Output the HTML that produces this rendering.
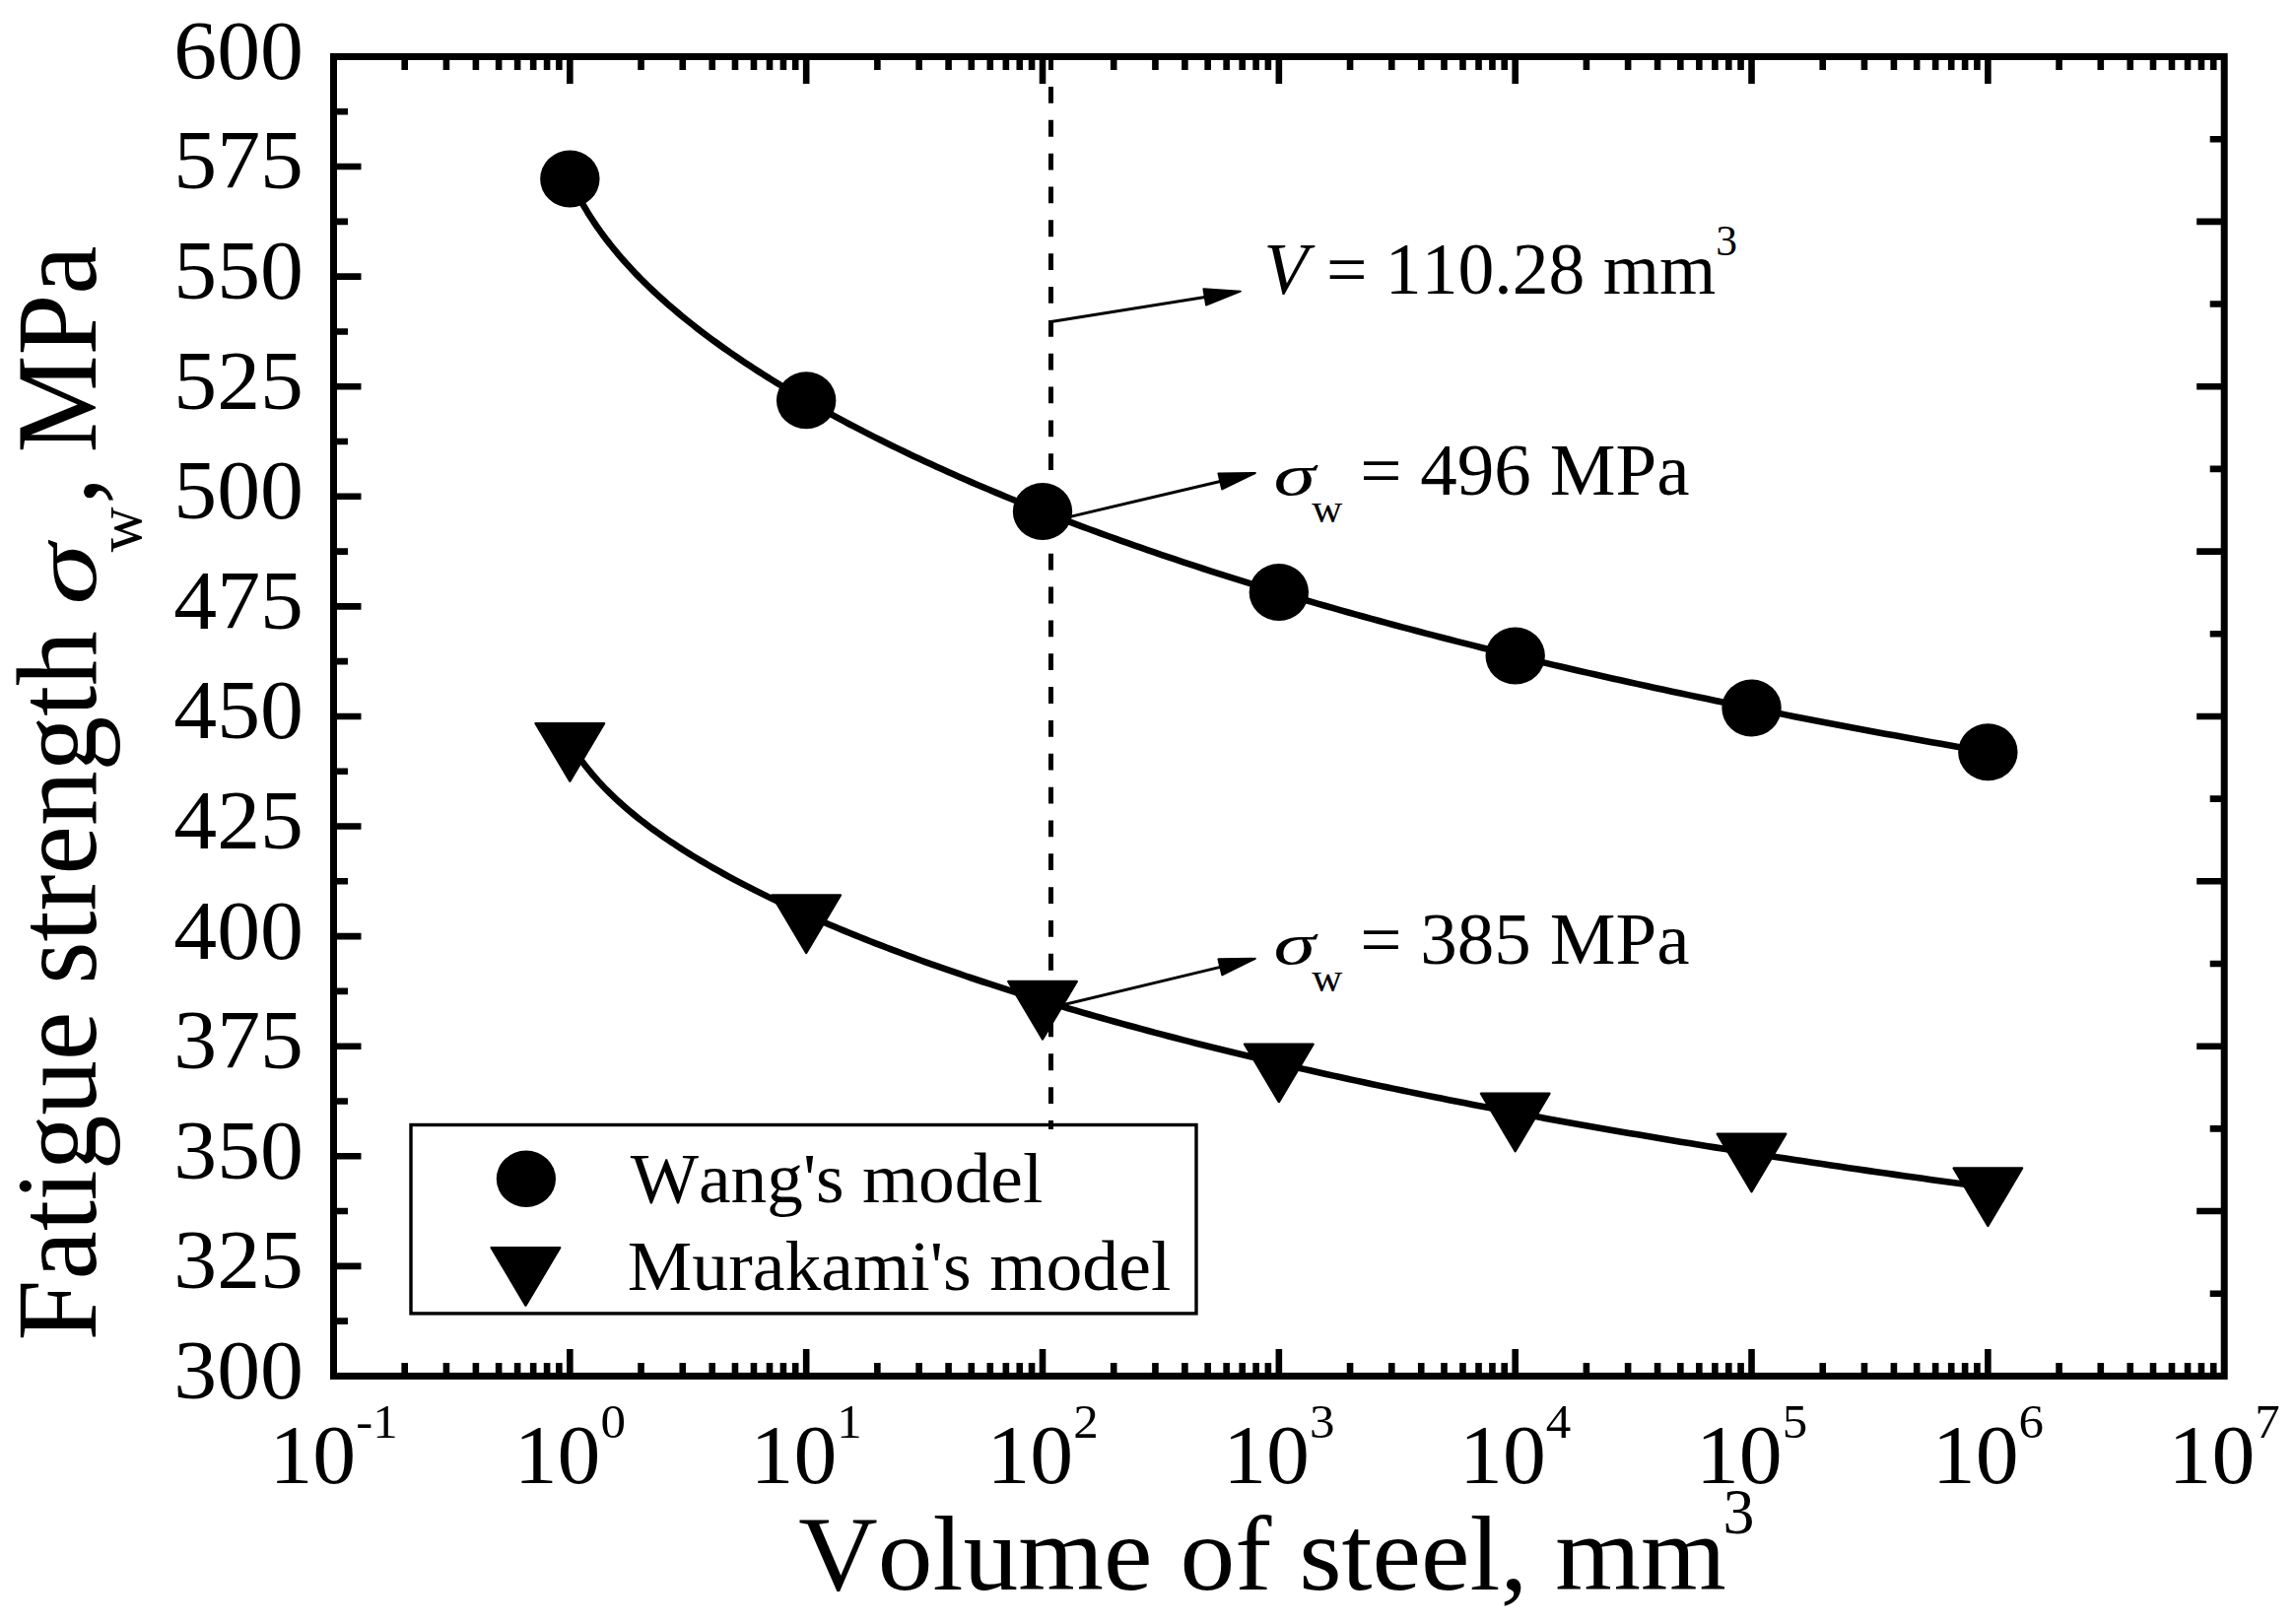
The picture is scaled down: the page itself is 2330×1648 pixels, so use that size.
<!DOCTYPE html>
<html lang="en"><head><meta charset="utf-8"><title>Fatigue strength vs volume of steel</title>
<style>html,body{margin:0;padding:0;background:#fff;}body{width:2330px;height:1648px;overflow:hidden;}svg{display:block;}text{font-family:"Liberation Serif", serif;fill:#000;font-kerning:none;}.i{font-style:italic;}</style></head><body>
<svg width="2330" height="1648" viewBox="0 0 2330 1648">
<rect x="0" y="0" width="2330" height="1648" fill="#fff"/>
<path d="M410.7 1396.4 v-13.5 M410.7 57.5 v13.5 M452.93 1396.4 v-13.5 M452.93 57.5 v13.5 M482.9 1396.4 v-13.5 M482.9 57.5 v13.5 M506.14 1396.4 v-13.5 M506.14 57.5 v13.5 M525.13 1396.4 v-13.5 M525.13 57.5 v13.5 M541.19 1396.4 v-13.5 M541.19 57.5 v13.5 M555.09 1396.4 v-13.5 M555.09 57.5 v13.5 M567.36 1396.4 v-13.5 M567.36 57.5 v13.5 M578.34 1396.4 v-27.5 M578.34 57.5 v27.5 M650.54 1396.4 v-13.5 M650.54 57.5 v13.5 M692.77 1396.4 v-13.5 M692.77 57.5 v13.5 M722.73 1396.4 v-13.5 M722.73 57.5 v13.5 M745.98 1396.4 v-13.5 M745.98 57.5 v13.5 M764.97 1396.4 v-13.5 M764.97 57.5 v13.5 M781.02 1396.4 v-13.5 M781.02 57.5 v13.5 M794.93 1396.4 v-13.5 M794.93 57.5 v13.5 M807.2 1396.4 v-13.5 M807.2 57.5 v13.5 M818.17 1396.4 v-27.5 M818.17 57.5 v27.5 M890.37 1396.4 v-13.5 M890.37 57.5 v13.5 M932.61 1396.4 v-13.5 M932.61 57.5 v13.5 M962.57 1396.4 v-13.5 M962.57 57.5 v13.5 M985.81 1396.4 v-13.5 M985.81 57.5 v13.5 M1004.8 1396.4 v-13.5 M1004.8 57.5 v13.5 M1020.86 1396.4 v-13.5 M1020.86 57.5 v13.5 M1034.77 1396.4 v-13.5 M1034.77 57.5 v13.5 M1047.04 1396.4 v-13.5 M1047.04 57.5 v13.5 M1058.01 1396.4 v-27.5 M1058.01 57.5 v27.5 M1130.21 1396.4 v-13.5 M1130.21 57.5 v13.5 M1172.44 1396.4 v-13.5 M1172.44 57.5 v13.5 M1202.41 1396.4 v-13.5 M1202.41 57.5 v13.5 M1225.65 1396.4 v-13.5 M1225.65 57.5 v13.5 M1244.64 1396.4 v-13.5 M1244.64 57.5 v13.5 M1260.7 1396.4 v-13.5 M1260.7 57.5 v13.5 M1274.61 1396.4 v-13.5 M1274.61 57.5 v13.5 M1286.88 1396.4 v-13.5 M1286.88 57.5 v13.5 M1297.85 1396.4 v-27.5 M1297.85 57.5 v27.5 M1370.05 1396.4 v-13.5 M1370.05 57.5 v13.5 M1412.28 1396.4 v-13.5 M1412.28 57.5 v13.5 M1442.25 1396.4 v-13.5 M1442.25 57.5 v13.5 M1465.49 1396.4 v-13.5 M1465.49 57.5 v13.5 M1484.48 1396.4 v-13.5 M1484.48 57.5 v13.5 M1500.54 1396.4 v-13.5 M1500.54 57.5 v13.5 M1514.44 1396.4 v-13.5 M1514.44 57.5 v13.5 M1526.71 1396.4 v-13.5 M1526.71 57.5 v13.5 M1537.69 1396.4 v-27.5 M1537.69 57.5 v27.5 M1609.89 1396.4 v-13.5 M1609.89 57.5 v13.5 M1652.12 1396.4 v-13.5 M1652.12 57.5 v13.5 M1682.08 1396.4 v-13.5 M1682.08 57.5 v13.5 M1705.33 1396.4 v-13.5 M1705.33 57.5 v13.5 M1724.32 1396.4 v-13.5 M1724.32 57.5 v13.5 M1740.37 1396.4 v-13.5 M1740.37 57.5 v13.5 M1754.28 1396.4 v-13.5 M1754.28 57.5 v13.5 M1766.55 1396.4 v-13.5 M1766.55 57.5 v13.5 M1777.52 1396.4 v-27.5 M1777.52 57.5 v27.5 M1849.72 1396.4 v-13.5 M1849.72 57.5 v13.5 M1891.96 1396.4 v-13.5 M1891.96 57.5 v13.5 M1921.92 1396.4 v-13.5 M1921.92 57.5 v13.5 M1945.16 1396.4 v-13.5 M1945.16 57.5 v13.5 M1964.15 1396.4 v-13.5 M1964.15 57.5 v13.5 M1980.21 1396.4 v-13.5 M1980.21 57.5 v13.5 M1994.12 1396.4 v-13.5 M1994.12 57.5 v13.5 M2006.39 1396.4 v-13.5 M2006.39 57.5 v13.5 M2017.36 1396.4 v-27.5 M2017.36 57.5 v27.5 M2089.56 1396.4 v-13.5 M2089.56 57.5 v13.5 M2131.79 1396.4 v-13.5 M2131.79 57.5 v13.5 M2161.76 1396.4 v-13.5 M2161.76 57.5 v13.5 M2185 1396.4 v-13.5 M2185 57.5 v13.5 M2203.99 1396.4 v-13.5 M2203.99 57.5 v13.5 M2220.05 1396.4 v-13.5 M2220.05 57.5 v13.5 M2233.96 1396.4 v-13.5 M2233.96 57.5 v13.5 M2246.23 1396.4 v-13.5 M2246.23 57.5 v13.5 M338.5 113.29 h14.5 M338.5 169.07 h28 M338.5 224.86 h14.5 M338.5 280.65 h28 M338.5 336.44 h14.5 M338.5 392.23 h28 M338.5 448.01 h14.5 M338.5 503.8 h28 M338.5 559.59 h14.5 M338.5 615.38 h28 M338.5 671.16 h14.5 M338.5 726.95 h28 M338.5 782.74 h14.5 M338.5 838.52 h28 M338.5 894.31 h14.5 M338.5 950.1 h28 M338.5 1005.89 h14.5 M338.5 1061.68 h28 M338.5 1117.46 h14.5 M338.5 1173.25 h28 M338.5 1229.04 h14.5 M338.5 1284.83 h28 M338.5 1340.61 h14.5 M2257.2 141.18 h-14.5 M2257.2 224.86 h-28 M2257.2 308.54 h-14.5 M2257.2 392.23 h-28 M2257.2 475.91 h-14.5 M2257.2 559.59 h-28 M2257.2 643.27 h-14.5 M2257.2 726.95 h-28 M2257.2 810.63 h-14.5 M2257.2 894.31 h-28 M2257.2 977.99 h-14.5 M2257.2 1061.68 h-28 M2257.2 1145.36 h-14.5 M2257.2 1229.04 h-28 M2257.2 1312.72 h-14.5" stroke="#000" stroke-width="6.6" fill="none"/>
<rect x="338.5" y="57.5" width="1918.7" height="1338.9" fill="none" stroke="#000" stroke-width="7"/>
<rect x="417" y="1141.5" width="797" height="191.4" fill="#fff" stroke="#000" stroke-width="3.4"/>
<path d="M1066.5 54.16 V1145.9" stroke="#000" stroke-width="5" stroke-dasharray="16.8 17.04" fill="none"/>
<path d="M578.34 181.56 L578.56 182.06 L579.02 183.06 L579.64 184.41 L580.39 186.03 L581.28 187.89 L582.27 189.95 L583.37 192.18 L584.57 194.56 L585.86 197.06 L587.24 199.67 L588.71 202.38 L590.26 205.17 L591.89 208.03 L593.6 210.94 L595.38 213.91 L597.23 216.92 L599.16 219.97 L601.15 223.05 L603.21 226.16 L605.34 229.29 L607.53 232.43 L609.79 235.59 L612.1 238.76 L614.48 241.94 L616.92 245.12 L619.42 248.3 L621.98 251.49 L624.6 254.68 L627.27 257.87 L629.99 261.06 L632.78 264.24 L635.61 267.42 L638.5 270.59 L641.45 273.76 L644.44 276.93 L647.49 280.08 L650.59 283.23 L653.74 286.38 L656.94 289.51 L660.19 292.64 L663.49 295.76 L666.83 298.87 L670.23 301.98 L673.67 305.07 L677.16 308.16 L680.7 311.24 L684.28 314.31 L687.91 317.38 L691.59 320.43 L695.31 323.47 L699.08 326.51 L702.89 329.54 L706.74 332.56 L710.64 335.57 L714.58 338.58 L718.56 341.57 L722.59 344.56 L726.66 347.53 L730.78 350.5 L734.93 353.47 L739.13 356.42 L743.37 359.37 L747.64 362.3 L751.96 365.23 L756.33 368.15 L760.73 371.07 L765.17 373.97 L769.65 376.87 L774.17 379.76 L778.73 382.64 L783.33 385.52 L787.97 388.38 L792.65 391.24 L797.37 394.09 L802.12 396.94 L806.91 399.77 L811.75 402.6 L816.61 405.42 L821.52 408.23 L826.46 411.04 L831.45 413.83 L836.46 416.62 L841.52 419.41 L846.61 422.18 L851.74 424.95 L856.9 427.71 L862.1 430.46 L867.34 433.2 L872.61 435.94 L877.92 438.67 L883.26 441.39 L888.64 444.11 L894.06 446.82 L899.51 449.51 L904.99 452.21 L910.51 454.89 L916.06 457.57 L921.65 460.24 L927.27 462.9 L932.93 465.55 L938.62 468.2 L944.35 470.84 L950.1 473.47 L955.9 476.09 L961.72 478.71 L967.58 481.32 L973.47 483.92 L979.4 486.51 L985.35 489.1 L991.35 491.67 L997.37 494.24 L1003.43 496.81 L1009.51 499.36 L1015.64 501.91 L1021.79 504.45 L1027.98 506.98 L1034.19 509.5 L1040.44 512.02 L1046.73 514.53 L1053.04 517.03 L1059.38 519.52 L1065.76 522 L1072.17 524.48 L1078.61 526.95 L1085.08 529.41 L1091.58 531.87 L1098.11 534.31 L1104.68 536.75 L1111.27 539.18 L1117.9 541.6 L1124.55 544.02 L1131.24 546.42 L1137.96 548.82 L1144.7 551.21 L1151.48 553.6 L1158.29 555.97 L1165.13 558.34 L1172 560.7 L1178.89 563.05 L1185.82 565.4 L1192.78 567.73 L1199.77 570.06 L1206.78 572.38 L1213.83 574.69 L1220.91 577 L1228.01 579.3 L1235.14 581.59 L1242.31 583.87 L1249.5 586.14 L1256.72 588.41 L1263.97 590.67 L1271.25 592.92 L1278.56 595.16 L1285.9 597.4 L1293.26 599.63 L1300.66 601.85 L1308.08 604.06 L1315.53 606.26 L1323.01 608.46 L1330.52 610.65 L1338.05 612.83 L1345.62 615.01 L1353.21 617.17 L1360.83 619.33 L1368.48 621.49 L1376.15 623.63 L1383.86 625.77 L1391.59 627.9 L1399.35 630.02 L1407.14 632.13 L1414.95 634.24 L1422.79 636.34 L1430.66 638.43 L1438.56 640.52 L1446.48 642.6 L1454.43 644.67 L1462.41 646.73 L1470.41 648.79 L1478.45 650.83 L1486.51 652.88 L1494.59 654.91 L1502.7 656.94 L1510.84 658.96 L1519.01 660.97 L1527.2 662.98 L1535.42 664.98 L1543.67 666.97 L1551.94 668.95 L1560.24 670.93 L1568.57 672.9 L1576.92 674.86 L1585.3 676.82 L1593.7 678.77 L1602.13 680.72 L1610.59 682.65 L1619.07 684.58 L1627.58 686.5 L1636.12 688.42 L1644.68 690.33 L1653.26 692.23 L1661.88 694.13 L1670.51 696.02 L1679.18 697.9 L1687.87 699.78 L1696.58 701.65 L1705.32 703.51 L1714.09 705.37 L1722.88 707.22 L1731.7 709.06 L1740.54 710.9 L1749.41 712.73 L1758.3 714.55 L1767.22 716.37 L1776.16 718.18 L1785.13 719.99 L1794.12 721.79 L1803.14 723.58 L1812.18 725.37 L1821.25 727.15 L1830.34 728.93 L1839.46 730.69 L1848.6 732.46 L1857.77 734.21 L1866.96 735.96 L1876.18 737.71 L1885.42 739.45 L1894.69 741.18 L1903.98 742.91 L1913.29 744.63 L1922.63 746.34 L1932 748.05 L1941.39 749.75 L1950.8 751.45 L1960.23 753.14 L1969.7 754.83 L1979.18 756.51 L1988.69 758.18 L1998.22 759.85 L2007.78 761.51 L2017.36 763.17" stroke="#000" stroke-width="6.6" fill="none" stroke-linejoin="round"/>
<path d="M578.34 753.6 L578.56 753.99 L579.02 754.77 L579.64 755.81 L580.39 757.08 L581.28 758.52 L582.27 760.12 L583.37 761.85 L584.57 763.69 L585.86 765.63 L587.24 767.66 L588.71 769.76 L590.26 771.92 L591.89 774.14 L593.6 776.4 L595.38 778.71 L597.23 781.05 L599.16 783.41 L601.15 785.8 L603.21 788.21 L605.34 790.64 L607.53 793.08 L609.79 795.53 L612.1 797.99 L614.48 800.45 L616.92 802.92 L619.42 805.4 L621.98 807.87 L624.6 810.35 L627.27 812.82 L629.99 815.29 L632.78 817.76 L635.61 820.23 L638.5 822.69 L641.45 825.15 L644.44 827.61 L647.49 830.06 L650.59 832.5 L653.74 834.94 L656.94 837.37 L660.19 839.8 L663.49 842.22 L666.83 844.64 L670.23 847.05 L673.67 849.45 L677.16 851.85 L680.7 854.24 L684.28 856.62 L687.91 859 L691.59 861.37 L695.31 863.73 L699.08 866.09 L702.89 868.44 L706.74 870.78 L710.64 873.12 L714.58 875.45 L718.56 877.77 L722.59 880.09 L726.66 882.4 L730.78 884.7 L734.93 887 L739.13 889.29 L743.37 891.58 L747.64 893.86 L751.96 896.13 L756.33 898.4 L760.73 900.66 L765.17 902.92 L769.65 905.16 L774.17 907.41 L778.73 909.64 L783.33 911.87 L787.97 914.1 L792.65 916.32 L797.37 918.53 L802.12 920.73 L806.91 922.93 L811.75 925.13 L816.61 927.32 L821.52 929.5 L826.46 931.68 L831.45 933.85 L836.46 936.01 L841.52 938.17 L846.61 940.32 L851.74 942.47 L856.9 944.61 L862.1 946.75 L867.34 948.88 L872.61 951 L877.92 953.12 L883.26 955.23 L888.64 957.34 L894.06 959.44 L899.51 961.54 L904.99 963.62 L910.51 965.71 L916.06 967.78 L921.65 969.86 L927.27 971.92 L932.93 973.98 L938.62 976.03 L944.35 978.08 L950.1 980.12 L955.9 982.16 L961.72 984.19 L967.58 986.21 L973.47 988.23 L979.4 990.25 L985.35 992.25 L991.35 994.25 L997.37 996.25 L1003.43 998.23 L1009.51 1000.22 L1015.64 1002.19 L1021.79 1004.16 L1027.98 1006.13 L1034.19 1008.09 L1040.44 1010.04 L1046.73 1011.99 L1053.04 1013.93 L1059.38 1015.86 L1065.76 1017.79 L1072.17 1019.71 L1078.61 1021.63 L1085.08 1023.54 L1091.58 1025.44 L1098.11 1027.34 L1104.68 1029.23 L1111.27 1031.12 L1117.9 1033 L1124.55 1034.87 L1131.24 1036.74 L1137.96 1038.6 L1144.7 1040.45 L1151.48 1042.3 L1158.29 1044.15 L1165.13 1045.98 L1172 1047.82 L1178.89 1049.64 L1185.82 1051.46 L1192.78 1053.27 L1199.77 1055.08 L1206.78 1056.88 L1213.83 1058.68 L1220.91 1060.46 L1228.01 1062.25 L1235.14 1064.02 L1242.31 1065.79 L1249.5 1067.56 L1256.72 1069.32 L1263.97 1071.07 L1271.25 1072.82 L1278.56 1074.56 L1285.9 1076.29 L1293.26 1078.02 L1300.66 1079.74 L1308.08 1081.46 L1315.53 1083.17 L1323.01 1084.88 L1330.52 1086.58 L1338.05 1088.27 L1345.62 1089.96 L1353.21 1091.64 L1360.83 1093.31 L1368.48 1094.98 L1376.15 1096.65 L1383.86 1098.31 L1391.59 1099.96 L1399.35 1101.61 L1407.14 1103.25 L1414.95 1104.88 L1422.79 1106.51 L1430.66 1108.14 L1438.56 1109.75 L1446.48 1111.37 L1454.43 1112.97 L1462.41 1114.57 L1470.41 1116.17 L1478.45 1117.76 L1486.51 1119.34 L1494.59 1120.92 L1502.7 1122.5 L1510.84 1124.06 L1519.01 1125.62 L1527.2 1127.18 L1535.42 1128.73 L1543.67 1130.28 L1551.94 1131.82 L1560.24 1133.35 L1568.57 1134.88 L1576.92 1136.41 L1585.3 1137.93 L1593.7 1139.44 L1602.13 1140.95 L1610.59 1142.45 L1619.07 1143.95 L1627.58 1145.44 L1636.12 1146.93 L1644.68 1148.41 L1653.26 1149.88 L1661.88 1151.36 L1670.51 1152.82 L1679.18 1154.28 L1687.87 1155.74 L1696.58 1157.19 L1705.32 1158.64 L1714.09 1160.08 L1722.88 1161.51 L1731.7 1162.94 L1740.54 1164.37 L1749.41 1165.79 L1758.3 1167.21 L1767.22 1168.62 L1776.16 1170.02 L1785.13 1171.42 L1794.12 1172.82 L1803.14 1174.21 L1812.18 1175.6 L1821.25 1176.98 L1830.34 1178.36 L1839.46 1179.73 L1848.6 1181.1 L1857.77 1182.46 L1866.96 1183.82 L1876.18 1185.17 L1885.42 1186.52 L1894.69 1187.87 L1903.98 1189.21 L1913.29 1190.54 L1922.63 1191.87 L1932 1193.2 L1941.39 1194.52 L1950.8 1195.84 L1960.23 1197.15 L1969.7 1198.46 L1979.18 1199.76 L1988.69 1201.06 L1998.22 1202.36 L2007.78 1203.65 L2017.36 1204.93" stroke="#000" stroke-width="6.6" fill="none" stroke-linejoin="round"/>
<path d="M1066.5 326.4 L1222.78 301.4" stroke="#000" stroke-width="3" fill="none"/><path d="M1258.82 295.64 L1224.08 309.55 L1221.47 293.26 Z" fill="#000" stroke="#000" stroke-width="2" stroke-linejoin="round"/>
<path d="M1068 528.6 L1238.32 488.42" stroke="#000" stroke-width="3" fill="none"/><path d="M1273.84 480.04 L1240.21 496.45 L1236.42 480.39 Z" fill="#000" stroke="#000" stroke-width="2" stroke-linejoin="round"/>
<path d="M1068 1022.3 L1238.35 981.38" stroke="#000" stroke-width="3" fill="none"/><path d="M1273.84 972.85 L1240.28 989.4 L1236.42 973.35 Z" fill="#000" stroke="#000" stroke-width="2" stroke-linejoin="round"/>
<ellipse cx="578.34" cy="181.56" rx="30.2" ry="29"/>
<ellipse cx="818.17" cy="406.32" rx="30.2" ry="29"/>
<ellipse cx="1058.01" cy="518.98" rx="30.2" ry="29"/>
<ellipse cx="1297.85" cy="601" rx="30.2" ry="29"/>
<ellipse cx="1537.69" cy="665.52" rx="30.2" ry="29"/>
<ellipse cx="1777.52" cy="718.46" rx="30.2" ry="29"/>
<ellipse cx="2017.36" cy="763.17" rx="30.2" ry="29"/>
<path d="M543.59 734.1 h69.5 l-34.75 58.5 Z" fill="#000" stroke="#000" stroke-width="2.4" stroke-linejoin="round"/>
<path d="M783.42 908.51 h69.5 l-34.75 58.5 Z" fill="#000" stroke="#000" stroke-width="2.4" stroke-linejoin="round"/>
<path d="M1023.26 995.94 h69.5 l-34.75 58.5 Z" fill="#000" stroke="#000" stroke-width="2.4" stroke-linejoin="round"/>
<path d="M1263.1 1059.59 h69.5 l-34.75 58.5 Z" fill="#000" stroke="#000" stroke-width="2.4" stroke-linejoin="round"/>
<path d="M1502.94 1109.66 h69.5 l-34.75 58.5 Z" fill="#000" stroke="#000" stroke-width="2.4" stroke-linejoin="round"/>
<path d="M1742.77 1150.74 h69.5 l-34.75 58.5 Z" fill="#000" stroke="#000" stroke-width="2.4" stroke-linejoin="round"/>
<path d="M1982.61 1185.43 h69.5 l-34.75 58.5 Z" fill="#000" stroke="#000" stroke-width="2.4" stroke-linejoin="round"/>
<ellipse cx="533.9" cy="1196.3" rx="30.1" ry="28.7"/>
<path d="M498.7 1266.1 h69.5 l-34.75 58.5 Z" fill="#000" stroke="#000" stroke-width="2.4" stroke-linejoin="round"/>
<text transform="translate(639.8 1219.6) scale(1.013 1)" font-size="72.4" text-anchor="start">Wang's model</text>
<text transform="translate(636.8 1308.8) scale(1.018 1)" font-size="72.4" text-anchor="start">Murakami's model</text>
<text transform="translate(1282.6 298.2) scale(1 1)" font-size="73.6" text-anchor="start"><tspan class="i">V</tspan> = 110.28 mm<tspan font-size="43.5" dy="-39.5">3</tspan></text>
<text transform="translate(1292.4 502.2) scale(1.17 0.79)" font-size="73.6" text-anchor="start" class="i">σ</text><text transform="translate(1331.2 530.1) scale(1 1)" font-size="43" text-anchor="start">w</text><text transform="translate(1380.2 502.2) scale(1.02 1)" font-size="73.6" text-anchor="start">= 496 MPa</text>
<text transform="translate(1292.4 978.4) scale(1.17 0.79)" font-size="73.6" text-anchor="start" class="i">σ</text><text transform="translate(1331.2 1006.3) scale(1 1)" font-size="43" text-anchor="start">w</text><text transform="translate(1380.2 978.4) scale(1.02 1)" font-size="73.6" text-anchor="start">= 385 MPa</text>
<text transform="translate(308 79.9) scale(1.04 1)" font-size="84.4" text-anchor="end">600</text>
<text transform="translate(308 191.47) scale(1.04 1)" font-size="84.4" text-anchor="end">575</text>
<text transform="translate(308 303.05) scale(1.04 1)" font-size="84.4" text-anchor="end">550</text>
<text transform="translate(308 414.62) scale(1.04 1)" font-size="84.4" text-anchor="end">525</text>
<text transform="translate(308 526.2) scale(1.04 1)" font-size="84.4" text-anchor="end">500</text>
<text transform="translate(308 637.77) scale(1.04 1)" font-size="84.4" text-anchor="end">475</text>
<text transform="translate(308 749.35) scale(1.04 1)" font-size="84.4" text-anchor="end">450</text>
<text transform="translate(308 860.92) scale(1.04 1)" font-size="84.4" text-anchor="end">425</text>
<text transform="translate(308 972.5) scale(1.04 1)" font-size="84.4" text-anchor="end">400</text>
<text transform="translate(308 1084.08) scale(1.04 1)" font-size="84.4" text-anchor="end">375</text>
<text transform="translate(308 1195.65) scale(1.04 1)" font-size="84.4" text-anchor="end">350</text>
<text transform="translate(308 1307.23) scale(1.04 1)" font-size="84.4" text-anchor="end">325</text>
<text transform="translate(308 1418.8) scale(1.04 1)" font-size="84.4" text-anchor="end">300</text>
<text transform="translate(338.5 1505) scale(1.04 1)" font-size="84.4" text-anchor="middle">10<tspan font-size="49" dy="-46.5">-1</tspan></text>
<text transform="translate(578.34 1505) scale(1.04 1)" font-size="84.4" text-anchor="middle">10<tspan font-size="49" dy="-46.5">0</tspan></text>
<text transform="translate(818.17 1505) scale(1.04 1)" font-size="84.4" text-anchor="middle">10<tspan font-size="49" dy="-46.5">1</tspan></text>
<text transform="translate(1058.01 1505) scale(1.04 1)" font-size="84.4" text-anchor="middle">10<tspan font-size="49" dy="-46.5">2</tspan></text>
<text transform="translate(1297.85 1505) scale(1.04 1)" font-size="84.4" text-anchor="middle">10<tspan font-size="49" dy="-46.5">3</tspan></text>
<text transform="translate(1537.69 1505) scale(1.04 1)" font-size="84.4" text-anchor="middle">10<tspan font-size="49" dy="-46.5">4</tspan></text>
<text transform="translate(1777.52 1505) scale(1.04 1)" font-size="84.4" text-anchor="middle">10<tspan font-size="49" dy="-46.5">5</tspan></text>
<text transform="translate(2017.36 1505) scale(1.04 1)" font-size="84.4" text-anchor="middle">10<tspan font-size="49" dy="-46.5">6</tspan></text>
<text transform="translate(2257.2 1505) scale(1.04 1)" font-size="84.4" text-anchor="middle">10<tspan font-size="49" dy="-46.5">7</tspan></text>
<clipPath id="ct"><rect x="700" y="1511.3" width="1300" height="137"/></clipPath>
<g clip-path="url(#ct)"><text transform="translate(810.3 1612.8) scale(1.024 1)" font-size="108.9" text-anchor="start">Volume of steel, mm</text><text transform="translate(1748.6 1555.8) scale(0.968 1)" font-size="66" text-anchor="start">3</text></g>
<g transform="translate(97 1360.4) rotate(-90) scale(1.022 1.06)"><text font-size="108.9">Fatigue strength</text><text class="i" font-size="108.9" transform="translate(730.5 0) scale(1.13 0.8)">σ</text><text font-size="62" x="783" y="43">w</text><text font-size="108.9" x="830.5">,</text><text font-size="108.9" x="881.5">MPa</text></g>
</svg></body></html>
